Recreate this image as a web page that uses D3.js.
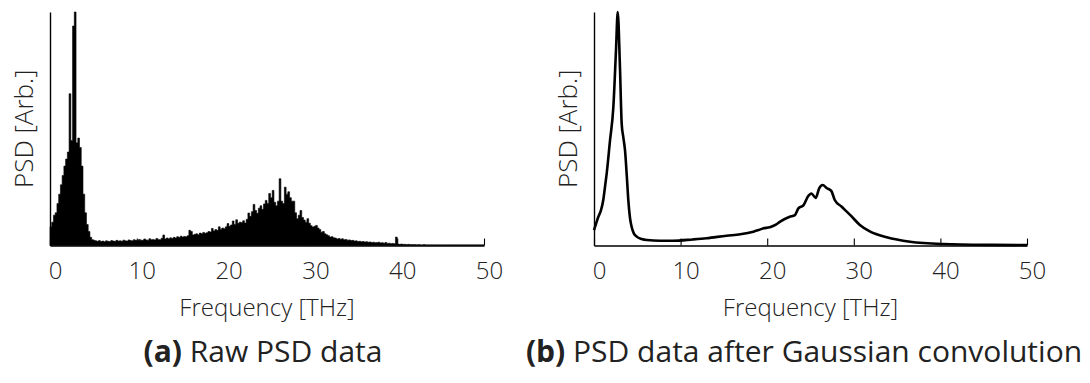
<!DOCTYPE html>
<html>
<head>
<meta charset="utf-8">
<script src="https://cdn.jsdelivr.net/npm/d3@7"></script>
<style>
  html, body { margin: 0; padding: 0; background: #fff; }
  svg { display: block; }
  text { font-family: "Open Sans", "DejaVu Sans", sans-serif; fill: #222; }
</style>
</head>
<body>
<svg id="chart" width="1090" height="383"></svg>
<script>
// Raw power spectral density, one value per 0.2 THz bin starting at 0 THz
const rawBinStart = 0;
const rawBinWidth = 0.2;
const rawPSD = [
  8, 10, 13, 14, 18, 22, 26, 30, 34, 37,
  40, 65, 45, 94, 100, 44, 46, 42, 34, 22,
  14, 9, 6, 3.5, 2.5, 2.2, 2.0, 1.8, 2.1, 1.7,
  1.9, 1.6, 2.0, 1.8, 1.7, 2.1, 1.9, 1.8, 2.2, 1.9,
  2.0, 1.8, 2.3, 2.0, 1.9, 2.4, 2.1, 2.0, 2.5, 2.2,
  2.1, 2.6, 2.3, 2.2, 2.8, 2.4, 2.3, 2.9, 2.5, 2.6,
  2.4, 3.0, 2.6, 2.5, 3.1, 4.5, 2.8, 3.2, 2.9, 3.3,
  3.0, 3.5, 3.2, 3.8, 3.4, 4.0, 3.6, 3.9, 3.7, 4.2,
  6.5, 6.0, 4.5, 4.8, 5.0, 4.6, 5.3, 5.0, 5.6, 5.2,
  5.5, 6.0, 5.8, 7.3, 6.2, 6.8, 6.5, 8.0, 7.0, 7.5,
  7.2, 8.0, 9.4, 8.2, 8.8, 10.5, 9.0, 11.0, 9.5, 10.0,
  9.8, 10.6, 9.6, 11.2, 13.9, 12.5, 14.5, 17.6, 15.0, 13.8,
  16.0, 17.0, 15.5, 17.8, 19.3, 18.0, 22.3, 20.5, 23.6, 18.5,
  17.0, 19.0, 28.6, 19.0, 18.0, 25.0, 22.0, 23.0, 20.5, 19.0,
  19.0, 14.0, 11.5, 13.0, 15.0, 12.0, 10.9, 10.0, 11.5, 9.5,
  8.5, 7.9, 8.2, 8.6, 7.5, 6.8, 5.7, 6.0, 5.0, 4.6,
  4.2, 3.6, 3.8, 3.3, 3.2, 2.8, 3.0, 2.7, 2.9, 2.5,
  2.6, 2.3, 2.4, 2.1, 2.2, 1.9, 2.0, 1.7, 1.8, 1.6,
  1.7, 1.5, 1.6, 1.4, 1.5, 1.3, 1.4, 1.2, 1.3, 1.4,
  1.1, 1.2, 1.0, 1.3, 0.9, 1.0, 0.8, 0.9, 0.8, 3.6,
  0.6, 0.5, 0.6, 0.5, 0.5, 0.4, 0.5, 0.4, 0.4, 0.4,
  0.4, 0.3, 0.4, 0.3, 0.3, 0.4, 0.3, 0.3, 0.3, 0.3,
  0.3, 0.3, 0.3, 0.3, 0.3, 0.3, 0.3, 0.3, 0.3, 0.3,
  0.3, 0.3, 0.3, 0.3, 0.3, 0.3, 0.3, 0.3, 0.3, 0.3,
  0.3, 0.3, 0.3, 0.3, 0.3, 0.3, 0.3, 0.3, 0.3, 0.3
];

// Gaussian-smoothed spectrum
const smoothFreq = [
  0, 0.25, 0.5, 0.8, 1.07, 1.3, 1.47, 1.85, 2.23, 2.54,
  2.74, 3.0, 3.2, 3.4, 3.58, 3.8, 3.96, 4.15, 4.35, 4.6,
  4.93, 5.5, 6.1, 7.6, 9.1, 11.4, 13.0, 15.3, 16.9, 18.4,
  19.0, 19.5, 20.3, 21.0, 21.5, 22.6, 23.2, 23.6, 24.2, 24.7,
  25.1, 25.6, 26.0, 26.4, 26.9, 27.4, 27.8, 28.6, 29.6, 30.7,
  31.9, 33.8, 36.5, 40.3, 46.1, 50
];
const smoothPSD = [
  6.6, 9.5, 12.3, 15.0, 19.5, 26, 31, 45, 59, 83.6,
  100, 76, 52, 46, 40.8, 29, 19.5, 12, 7.9, 5.2,
  3.8, 2.8, 2.35, 2.05, 2.05, 2.6, 3.1, 4.2, 4.8, 5.9,
  6.6, 7.3, 7.8, 8.9, 10.2, 12.3, 13.0, 15.9, 17.3, 21.0,
  22.3, 20.4, 24.5, 25.9, 24.5, 23.4, 19.5, 16.6, 13.0, 8.8,
  5.9, 3.5, 1.6, 0.64, 0.25, 0.15
];

const freqTicks = [0, 10, 20, 30, 40, 50];
const freqDomain = [0, 50];
const psdDomain = [0, 100];
const xAxisTitle = "Frequency [THz]";
const yAxisTitle = "PSD [Arb.]";
const captions = [
  { tag: "(a)", text: " Raw PSD data" },
  { tag: "(b)", text: " PSD data after Gaussian convolution" }
];

const svg = d3.select("#chart");
svg.append("rect").attr("width", 1090).attr("height", 383).attr("fill", "#fff");

const panels = [
  { left: 50, right: 484, captionX: 263 },
  { left: 594, right: 1027, captionX: 804 }
];
const plotTop = 12, plotBottom = 245.5;

function drawFrame(g, p, x, y) {
  // bottom axis with short inward ticks
  const xa = g.append("g")
    .attr("transform", `translate(0,${plotBottom})`)
    .call(d3.axisBottom(x).tickValues(freqTicks).tickFormat(d3.format("d"))
      .tickSizeInner(-7).tickSizeOuter(0).tickPadding(0));
  xa.select(".domain").attr("stroke", "#000").attr("stroke-width", 1.4);
  xa.selectAll(".tick line").attr("stroke", "#000").attr("stroke-width", 1.1);
  xa.selectAll(".tick text")
    .attr("y", 33.5).attr("dy", 0).attr("dx", 5)
    .style("font-size", "24px").style("font-weight", 300)
    .attr("fill", "#222");

  // left axis: plain line
  const ya = g.append("g")
    .attr("transform", `translate(${p.left},0)`)
    .call(d3.axisLeft(y).tickValues([]).tickSizeOuter(0));
  ya.select(".domain").attr("stroke", "#000").attr("stroke-width", 1.4);

  g.append("text")
    .attr("x", (p.left + p.right) / 2).attr("y", 315.5)
    .attr("text-anchor", "middle")
    .style("font-size", "24px").style("font-weight", 300)
    .text(xAxisTitle);

  g.append("text")
    .attr("transform", `translate(${p.left - 17},${(plotTop + plotBottom) / 2}) rotate(-90)`)
    .attr("text-anchor", "middle")
    .style("font-size", "26px").style("font-weight", 300)
    .text(yAxisTitle);
}

// Panel (a): raw spectrum as filled histogram
{
  const p = panels[0];
  const g = svg.append("g");
  const x = d3.scaleLinear().domain(freqDomain).range([p.left, p.right]);
  const y = d3.scaleLinear().domain(psdDomain).range([plotBottom, plotTop]);
  const bins = rawPSD.map((v, i) => ({ f: rawBinStart + i * rawBinWidth, v }));
  bins.push({ f: bins[bins.length - 1].f + rawBinWidth, v: bins[bins.length - 1].v });
  const area = d3.area()
    .x(d => x(d.f)).y0(plotBottom).y1(d => y(d.v))
    .curve(d3.curveStepAfter);
  g.append("path").datum(bins)
    .attr("d", area)
    .attr("fill", "#000").attr("stroke", "#000").attr("stroke-width", 0.6);
  drawFrame(g, p, x, y);
}

// Panel (b): smoothed spectrum as a line
{
  const p = panels[1];
  const g = svg.append("g");
  const x = d3.scaleLinear().domain(freqDomain).range([p.left, p.right]);
  const y = d3.scaleLinear().domain(psdDomain).range([plotBottom, plotTop]);
  const pts = smoothFreq.map((f, i) => ({ f, v: smoothPSD[i] }));
  const line = d3.line().x(d => x(d.f)).y(d => y(d.v)).curve(d3.curveMonotoneX);
  drawFrame(g, p, x, y);
  g.append("path").datum(pts)
    .attr("d", line)
    .attr("fill", "none").attr("stroke", "#000")
    .attr("stroke-width", 2.6).attr("stroke-linejoin", "round");
}

// Sub-figure captions
captions.forEach((c, i) => {
  const t = svg.append("text")
    .attr("x", panels[i].captionX).attr("y", 362)
    .attr("text-anchor", "middle")
    .style("font-size", "30px");
  t.append("tspan").style("font-weight", 700).text(c.tag);
  t.append("tspan").text(c.text);
});
</script>
</body>
</html>
